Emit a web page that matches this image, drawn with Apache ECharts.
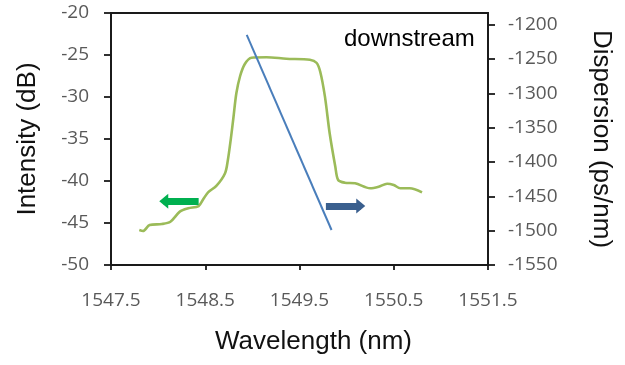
<!DOCTYPE html>
<html>
<head>
<meta charset="utf-8">
<script src="https://cdn.jsdelivr.net/npm/echarts@6/dist/echarts.min.js"></script>
<style>html,body{margin:0;padding:0;background:#fff;}#c{width:625px;height:365px;}</style>
</head>
<body>
<div id="c"></div>
<script>
// Intensity spectrum (left axis)
const wavelength = [1547.80,1547.84,1547.91,1548.04,1548.13,1548.23,1548.32,1548.43,1548.48,1548.53,1548.62,1548.71,1548.74,1548.77,1548.80,1548.83,1548.87,1548.92,1548.99,1549.15,1549.36,1549.61,1549.68,1549.72,1549.77,1549.82,1549.88,1549.91,1549.98,1550.09,1550.25,1550.34,1550.43,1550.50,1550.57,1550.67,1550.80];
const intensity = [-45.83,-45.95,-45.24,-45.12,-44.85,-43.65,-43.25,-42.98,-42.14,-41.35,-40.56,-39.08,-37.5,-35.1,-32.35,-29.56,-27.5,-26.07,-25.32,-25.27,-25.44,-25.56,-25.92,-26.99,-29.96,-34.32,-38.3,-39.88,-40.2,-40.27,-40.87,-40.68,-40.32,-40.48,-40.87,-40.87,-41.35];
// Dispersion (right axis)
const dispWavelength = [1548.94, 1549.84];
const dispersion = [-1215, -1499];
// Tick labels
const xTicks = [1547.5, 1548.5, 1549.5, 1550.5, 1551.5];
const intensityTicks = [-50, -45, -40, -35, -30, -25, -20];
const dispersionTicks = [-1550, -1500, -1450, -1400, -1350, -1300, -1250, -1200];
// Annotation arrows (data coordinates)
const greenArrow = [[1548.43, -42.4], [1548.06, -42.4]];
const blueArrow = [[1549.78, -42.98], [1550.15, -42.98]];

const labelStyle = {color: '#595959', fontFamily: 'Open Sans', fontSize: 19};
const nameStyle = {color: '#111', fontFamily: 'Liberation Sans', fontSize: 26};
const axisLine = {show: true, lineStyle: {color: '#1a1a1a', width: 1.8}};

const chart = echarts.init(document.getElementById('c'), null, {renderer: 'canvas'});
chart.setOption({
  animation: false,
  grid: {left: 111, right: 137, top: 13, bottom: 100, show: true, borderColor: '#1a1a1a', borderWidth: 1.8},
  xAxis: {
    type: 'value', min: xTicks[0], max: xTicks[xTicks.length - 1], interval: 1,
    name: 'Wavelength (nm)', nameLocation: 'middle', nameGap: 64,
    nameTextStyle: Object.assign({padding: [0, 0, 0, 28]}, nameStyle),
    axisLine: axisLine,
    axisTick: {show: true, length: 5, lineStyle: {color: '#1a1a1a', width: 1.8}},
    axisLabel: Object.assign({margin: 26, formatter: v => v.toFixed(1)}, labelStyle),
    splitLine: {show: false}
  },
  yAxis: [
    {
      type: 'value', position: 'left', min: intensityTicks[0], max: intensityTicks[intensityTicks.length - 1], interval: 5,
      name: 'Intensity (dB)', nameLocation: 'middle', nameGap: 70, nameRotate: 90, nameTextStyle: nameStyle,
      axisLine: axisLine,
      axisTick: {show: true, length: 7, lineStyle: {color: '#1a1a1a', width: 1.8}},
      axisLabel: Object.assign({margin: 22, formatter: v => String(v)}, labelStyle),
      splitLine: {show: false}
    },
    {
      type: 'value', position: 'right', min: -1550, max: -1183, interval: 50,
      name: 'Dispersion (ps/nm)', nameLocation: 'middle', nameGap: 100, nameRotate: -90, nameTextStyle: nameStyle,
      axisLine: axisLine,
      axisTick: {show: true, length: 7, customValues: dispersionTicks, lineStyle: {color: '#1a1a1a', width: 1.8}},
      axisLabel: Object.assign({margin: 20, customValues: dispersionTicks, formatter: v => String(v)}, labelStyle),
      splitLine: {show: false}
    }
  ],
  series: [
    {
      name: 'Intensity', type: 'line', yAxisIndex: 0, smooth: 0.3, showSymbol: false, silent: true,
      data: wavelength.map((w, i) => [w, intensity[i]]),
      lineStyle: {color: '#9BBB59', width: 2.6},
      markLine: {
        silent: true, symbol: ['none', 'triangle'], symbolSize: [15, 9], label: {show: false},
        data: [
          [{coord: greenArrow[0], lineStyle: {color: '#00B050', width: 7, type: 'solid'}, itemStyle: {color: '#00B050'}},
           {coord: greenArrow[1]}],
          [{coord: blueArrow[0], lineStyle: {color: '#3A5F8E', width: 7, type: 'solid'}, itemStyle: {color: '#3A5F8E'}},
           {coord: blueArrow[1]}]
        ]
      },
      z: 2
    },
    {
      name: 'Dispersion', type: 'line', yAxisIndex: 1, showSymbol: false, silent: true,
      data: dispWavelength.map((w, i) => [w, dispersion[i]]),
      lineStyle: {color: '#4A7EBB', width: 2},
      z: 3
    }
  ],
  graphic: [
    {type: 'text', left: 344, top: 27, style: {text: 'downstream', fill: '#000', font: '24px "Liberation Sans"'}, z: 10}
  ]
});
</script>
</body>
</html>
